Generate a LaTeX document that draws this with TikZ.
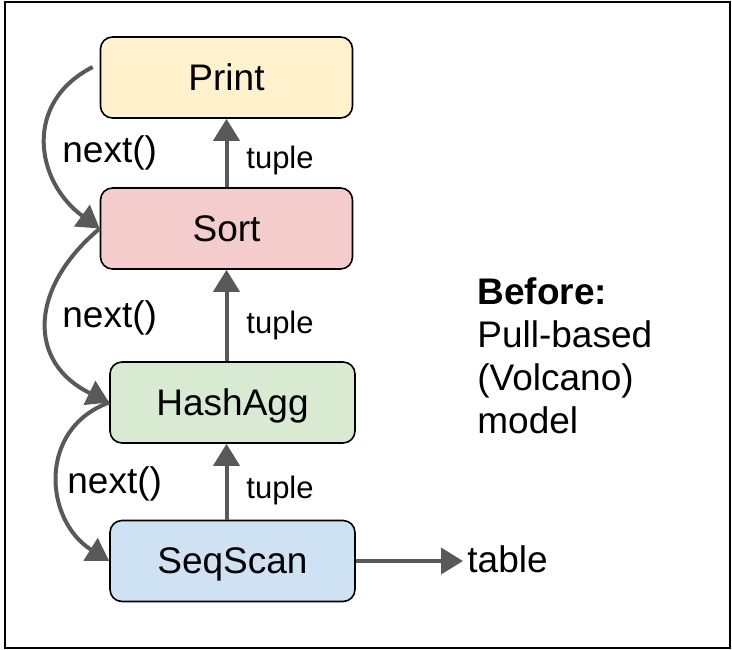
\documentclass[tikz,border=0pt]{standalone}
\usepackage{fontspec}
\setmainfont{Liberation Sans}
\usepackage{tikz}
\usetikzlibrary{positioning,arrows.meta,calc}
\definecolor{printfill}{HTML}{FFF2CC}
\definecolor{sortfill}{HTML}{F4CCCC}
\definecolor{aggfill}{HTML}{D9EAD3}
\definecolor{scanfill}{HTML}{CFE2F3}
\definecolor{arrowgray}{HTML}{595959}
\begin{document}
\begin{tikzpicture}[x=5pt,y=5pt,
		op/.style={draw=black, line width=0.8pt, rounded corners=6pt, minimum width=126pt, minimum height=40.5pt, inner sep=0pt, font=\fontsize{18.5}{22}\selectfont, text height=16.6pt, text depth=3.7pt},
		flow/.style={draw=arrowgray, line width=2pt, -{Triangle[length=11pt,width=13pt]}},
		lbl/.style={anchor=base west, inner sep=0pt, font=\fontsize{18.5}{22}\selectfont},
		small/.style={anchor=base west, inner sep=0pt, font=\fontsize{15.5}{18}\selectfont}]
		\useasboundingbox (0,0) rectangle (73.2,-64.9);
		\draw [black, line width=1pt] (0.5,-0.15) rectangle (72.95,-64.75);
		% operators
		\node [op, fill=printfill] (print) at (22.65,-7.75) {Print};
		\node [op, fill=sortfill] (sort) at (22.65,-22.85) {Sort};
		\node [op, fill=aggfill, minimum width=122.5pt] (hashagg) at (23.25,-40.25) {HashAgg};
		\node [op, fill=scanfill, minimum width=122.5pt] (seqscan) at (23.25,-56.1) {SeqScan};
		% tuples going up
		\draw [flow] (sort) -- (print);
		\draw [flow] (hashagg.north -| sort.south) -- (sort.south);
		\draw [flow] (seqscan.north -| sort.south) -- (hashagg.south -| sort.south);
		\node [small] (tuple1) at (24.6,-16.8) {tuple};
		\node [small] (tuple2) at (24.6,-33.3) {tuple};
		\node [small] (tuple3) at (24.6,-49.8) {tuple};
		% next() calls going down
		\draw [flow] ($(print.west)+(-0.7,1.05)$) to[out=207,in=144,looseness=1.25] (sort.west);
		\draw [flow] (sort.west) to[out=220,in=154,looseness=1.35] (hashagg.west);
		\draw [flow] (hashagg.west) to[out=200,in=148,looseness=1.24] (seqscan.west);
		\node [lbl] (next1) at (6.2,-16.2) {next()};
		\node [lbl] (next2) at (6.2,-32.7) {next()};
		\node [lbl] (next3) at (6.7,-49.3) {next()};
		% scan reads the table
		\node [lbl] (table) at (46.7,-57.2) {table};
		\draw [flow, shorten >=2pt] (seqscan.east) -- (seqscan.east -| table.west);
		\node [anchor=north west, align=left, inner sep=0pt, font=\fontsize{18.5}{21.5}\selectfont] (model) at (47.7,-27.7) {\textbf{Before:}\\Pull-based\\(Volcano)\\model};
\end{tikzpicture}
\end{document}
